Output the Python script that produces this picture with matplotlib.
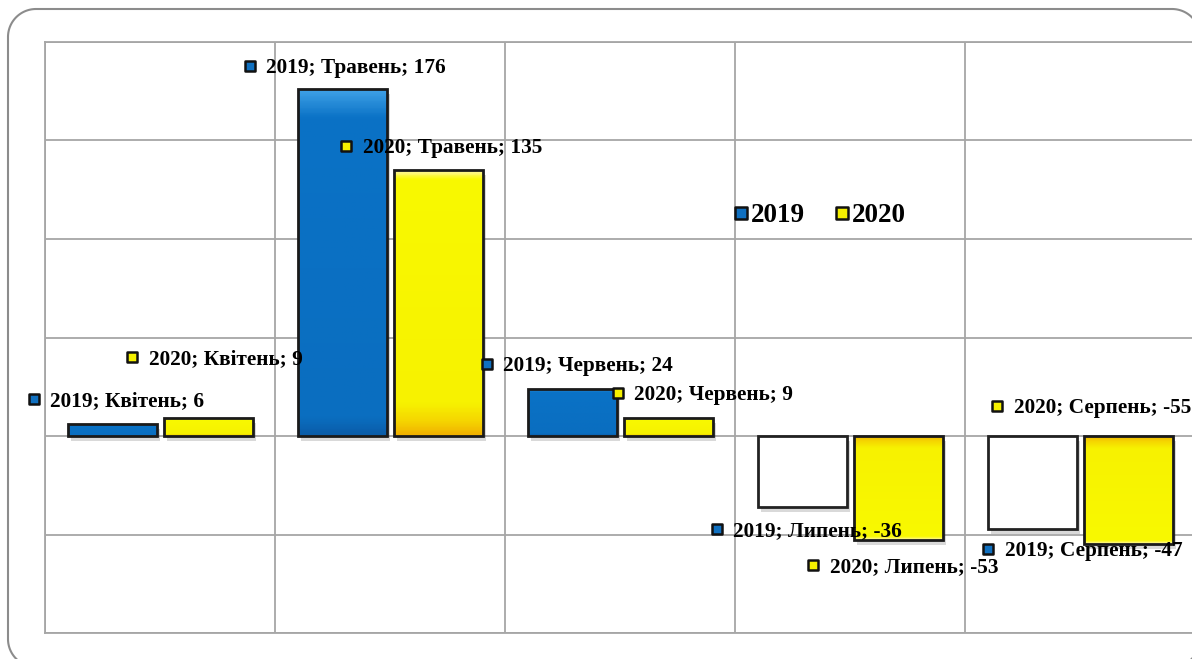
import matplotlib.pyplot as plt
import numpy as np
from matplotlib.lines import Line2D
from matplotlib.colors import LinearSegmentedColormap
from matplotlib.transforms import IdentityTransform

months = ['Квітень', 'Травень', 'Червень', 'Липень', 'Серпень']
years = ['2019', '2020']
values_2019 = [6, 176, 24, -36, -47]
values_2020 = [9, 135, 9, -53, -55]

# label anchor positions (marker centre, data units) - picked to follow the original layout
label_pos_2019 = [(-0.05, 18.7), (0.89, 187.7), (1.92, 36.4), (2.92, -47.0), (4.10, -57.2)]
label_pos_2020 = [(0.38, 40.0), (1.31, 147.2), (2.49, 21.8), (3.34, -65.3), (4.14, 15.2)]

W, H = 1192, 659
fig = plt.figure(figsize=(W / 100, H / 100), dpi=100)
plt.rcParams['font.family'] = ['Liberation Serif', 'DejaVu Serif']

# rounded chart-area frame in pixels, built as a polyline (parts fall off the picture)
L, R, T, B, r = 8, 1200, H - 9, -8, 28


def arc(cx, cy, a0, a1):
    t = np.radians(np.linspace(a0, a1, 30))
    return list(zip(cx + r * np.cos(t), cy + r * np.sin(t)))


pts = (arc(R - r, B + r, 0, -90) + arc(L + r, B + r, 270, 180)
       + arc(L + r, T - r, 180, 90) + arc(R - r, T - r, 90, 0))
pts.append(pts[0])
fx, fy = zip(*pts)
fig.lines.append(Line2D(fx, fy, transform=IdentityTransform(), color='#8c8c8c',
                        lw=1.5, zorder=-1))

ax = fig.add_axes([45 / W, (H - 633) / H, 1150 / W, 591 / H])
ax.patch.set_alpha(0)
ax.set_xlim(0, 5)
ax.set_ylim(-100, 200)
ax.set_yticks(np.arange(-100, 201, 50))
ax.set_xticks(np.arange(0, 6))
ax.grid(True, color='#a6a6a6', lw=1.3)
ax.tick_params(length=0, labelleft=False, labelbottom=False)
for s in ax.spines.values():
    s.set_color('#a6a6a6')
    s.set_linewidth(1.3)
ax.set_axisbelow(True)

blue = LinearSegmentedColormap.from_list(
    'b', [(0, '#0a5ca8'), (0.05, '#0a6ec0'), (0.92, '#0a72c6'), (1, '#3ea0e6')])
yellow = LinearSegmentedColormap.from_list(
    'y', [(0, '#f0b000'), (0.05, '#f5d400'), (0.12, '#f7f200'), (0.97, '#f9f900'), (1, '#fff6a0')])

width = 0.387
x = np.arange(len(months)) + 0.5


def draw_bars(xs, vals, cmap, offset, neg_white):
    for xi, v in zip(xs + offset, vals):
        left = xi - width / 2
        # soft shadow
        ax.bar(xi + 0.012, v, width, bottom=-2.5, color='#000000', alpha=0.15,
               lw=0, zorder=2)
        if v < 0 and neg_white:
            ax.bar(xi, v, width, color='white', edgecolor='#222222', lw=2, zorder=3)
            continue
        b = ax.bar(xi, v, width, color='none', edgecolor='#1a1a1a', lw=2, zorder=4)[0]
        grad = np.linspace(0, 1, 200).reshape(-1, 1)
        if v < 0:
            grad = grad[::-1]
        lo, hi = min(0, v), max(0, v)
        im = ax.imshow(grad, cmap=cmap, aspect='auto', origin='lower',
                       extent=(left, left + width, lo, hi), zorder=3)
        im.set_clip_path(b)


draw_bars(x, values_2019, blue, -0.207, True)
draw_bars(x, values_2020, yellow, 0.21, False)
ax.set_xlim(0, 5)
ax.set_ylim(-100, 200)

# data labels
for year, vals, pos, fc in [('2019', values_2019, label_pos_2019, '#1070c0'),
                            ('2020', values_2020, label_pos_2020, '#f5f000')]:
    for m, v, (px, py) in zip(months, vals, pos):
        ax.scatter([px], [py], marker='s', s=60, c=fc, edgecolors='#111111',
                   linewidths=1.8, zorder=6, clip_on=False)
        ax.annotate(f'{year}; {m}; {v}', (px, py), xytext=(12, -1.5),
                    textcoords='offset points', va='center', ha='left',
                    fontsize=15.3, fontweight='bold', zorder=7,
                    annotation_clip=False)

# legend
for lx, year, fc in [(3.026, '2019', '#1070c0'), (3.465, '2020', '#f5f000')]:
    ax.scatter([lx], [113.0], marker='s', s=85, c=fc, edgecolors='#111111',
               linewidths=1.8, zorder=6)
    ax.annotate(year, (lx, 113.0), xytext=(7, -1.5), textcoords='offset points',
                va='center', ha='left', fontsize=19.5, fontweight='bold', zorder=7)

fig.savefig('out.png', dpi=100)
